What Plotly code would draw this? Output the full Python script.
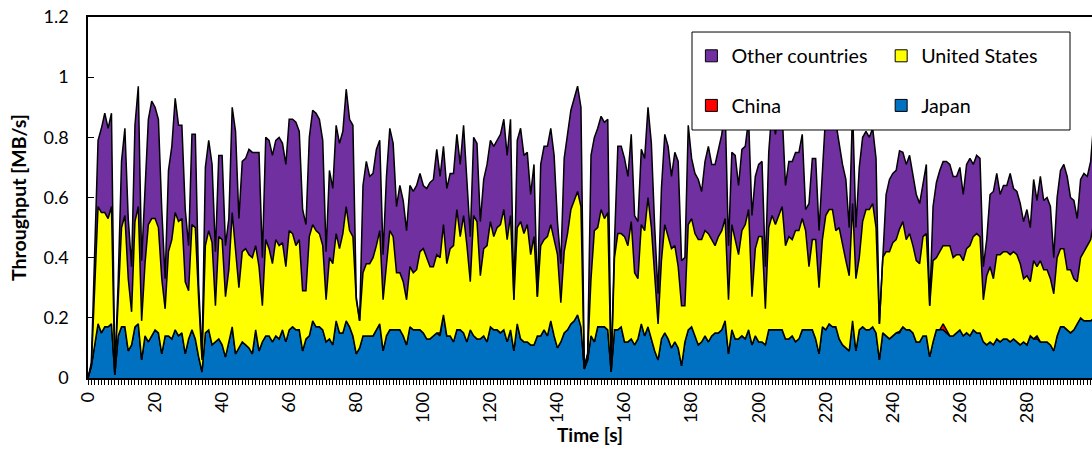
import plotly.graph_objects as go

# time in seconds (one sample per second)
time_s = list(range(301))

japan = [
    0, .04, .11, .18, .15, .17, .17, .18, .01, .14,
    .17, .17, .09, .11, .17, .18, .06, .14, .12, .14,
    .16, .15, .08, .14, .14, .13, .16, .14, .15, .08,
    .13, .16, .13, .07, .02, .15, .16, .11, .12, .13,
    .11, .07, .12, .17, .08, .10, .12, .11, .10, .08,
    .16, .09, .12, .14, .14, .12, .14, .13, .16, .12,
    .16, .17, .16, .16, .09, .13, .14, .19, .17, .17,
    .16, .12, .13, .11, .19, .15, .15, .19, .17, .14,
    .08, .10, .14, .14, .14, .14, .16, .18, .09, .14,
    .16, .16, .16, .16, .14, .11, .17, .16, .16, .16,
    .15, .13, .13, .14, .15, .14, .21, .14, .14, .12,
    .16, .16, .15, .12, .16, .14, .13, .13, .14, .12,
    .17, .16, .16, .15, .16, .12, .16, .09, .18, .13,
    .12, .12, .11, .11, .14, .14, .16, .14, .19, .14,
    .10, .12, .15, .16, .18, .19, .21, .17, .03, .06,
    .14, .12, .17, .17, .17, .16, .02, .16, .16, .17,
    .12, .12, .13, .11, .13, .18, .14, .17, .13, .09,
    .06, .13, .15, .13, .10, .12, .10, .04, .12, .16,
    .17, .14, .11, .12, .14, .12, .14, .15, .15, .16,
    .19, .08, .16, .13, .13, .14, .13, .16, .11, .14,
    .12, .12, .11, .16, .16, .16, .16, .16, .13, .13,
    .14, .12, .13, .16, .16, .16, .16, .13, .08, .17,
    .16, .18, .17, .17, .13, .11, .10, .09, .19, .09,
    .16, .17, .16, .16, .17, .15, .06, .15, .14, .13,
    .14, .15, .15, .17, .16, .16, .15, .12, .12, .14,
    .14, .07, .12, .16, .16, .16, .15, .14, .14, .15,
    .16, .14, .15, .14, .16, .15, .15, .12, .11, .12,
    .11, .13, .12, .13, .13, .12, .13, .12, .11, .12,
    .11, .14, .13, .13, .12, .12, .12, .11, .09, .14,
    .17, .17, .16, .15, .16, .18, .20, .19, .19, .19,
    .20,
]

# China is almost always zero; the few non-zero readings (second -> MB/s)
china_readings = {105: .01, 242: .005, 255: .02, 256: .01, 283: .01}
china = [china_readings.get(t, 0.0) for t in time_s]

united_states = [
    0, 0, .19, .39, .40, .38, .36, .39, .01, .14,
    .33, .37, .24, .11, .35, .39, .13, .24, .39, .39,
    .37, .35, .25, .09, .28, .33, .39, .38, .38, .24,
    .16, .35, .37, .19, .04, .29, .33, .34, .12, .34,
    .35, .20, .24, .38, .34, .20, .30, .32, .31, .32,
    .28, .28, .12, .32, .29, .26, .32, .31, .29, .25,
    .33, .31, .28, .30, .20, .16, .33, .32, .32, .31,
    .28, .14, .27, .27, .29, .28, .33, .38, .32, .33,
    .18, .09, .21, .24, .24, .26, .28, .31, .17, .23,
    .33, .31, .19, .19, .18, .15, .20, .19, .20, .26,
    .28, .27, .24, .23, .26, .25, .30, .24, .29, .32,
    .40, .31, .39, .32, .16, .40, .39, .21, .29, .32,
    .35, .31, .34, .36, .40, .34, .38, .17, .32, .39,
    .36, .39, .30, .36, .13, .30, .30, .33, .32, .32,
    .31, .13, .27, .32, .38, .40, .41, .40, 0, .02,
    .19, .37, .33, .39, .36, .39, 0, .24, .32, .31,
    .35, .32, .39, .24, .20, .33, .35, .43, .37, .25,
    .12, .26, .36, .34, .33, .32, .27, .20, .12, .35,
    .36, .34, .35, .34, .35, .36, .32, .29, .32, .33,
    .34, .18, .35, .33, .28, .35, .38, .40, .16, .29,
    .35, .35, .12, .34, .38, .35, .38, .41, .31, .34,
    .32, .37, .36, .37, .33, .21, .30, .33, .22, .29,
    .38, .38, .39, .32, .37, .33, .29, .25, .39, .24,
    .24, .35, .40, .40, .41, .35, .12, .25, .28, .29,
    .31, .31, .34, .35, .30, .32, .29, .27, .26, .33,
    .34, .17, .27, .24, .26, .26, .28, .30, .26, .26,
    .25, .25, .28, .30, .31, .33, .32, .14, .23, .25,
    .22, .28, .29, .29, .29, .29, .29, .29, .27, .21,
    .23, .18, .26, .23, .27, .24, .24, .22, .19, .26,
    .26, .26, .20, .21, .17, .14, .20, .23, .25, .27,
    .32,
]

other_countries = [
    0, .01, .12, .22, .28, .33, .30, .31, 0, .04,
    .22, .29, .20, .15, .32, .40, .20, .24, .35, .39,
    .37, .36, .23, .10, .27, .31, .38, .32, .31, .24,
    .15, .30, .31, .05, .01, .26, .30, .26, .18, .27,
    .28, .17, .17, .35, .40, .23, .30, .30, .35, .35,
    .31, .38, .16, .34, .36, .36, .33, .36, .33, .34,
    .37, .38, .41, .36, .27, .22, .33, .38, .39, .38,
    .35, .16, .29, .25, .36, .35, .34, .39, .37, .37,
    .01, 0, .29, .34, .29, .28, .32, .30, .15, .30,
    .34, .31, .22, .29, .27, .23, .27, .27, .28, .26,
    .21, .23, .28, .29, .35, .27, .26, .25, .25, .24,
    .25, .24, .30, .22, .15, .26, .26, .18, .23, .27,
    .27, .30, .29, .30, .30, .28, .32, 0, .29, .31,
    .26, .24, .20, .24, 0, .27, .31, .30, .32, .28,
    .11, .13, .31, .33, .33, .34, .35, .33, .01, 0,
    .41, .31, .33, .31, .32, .31, 0, .05, .29, .29,
    .26, .23, .29, .19, .19, .25, .24, .30, .28, .16,
    .10, .24, .30, .30, .24, .31, .35, .15, .16, .33,
    .20, .20, .20, .16, .23, .29, .25, .27, .29, .32,
    .37, .18, .24, .28, .23, .27, .26, .30, .27, .24,
    .24, .25, .14, .25, .36, .30, .36, .31, .20, .25,
    .26, .26, .26, .28, .07, .21, .27, .27, .19, .21,
    .34, .34, .32, .36, .28, .27, .27, .16, .32, .17,
    .30, .28, .26, .24, .25, .23, 0, .02, .19, .24,
    .23, .23, .26, .23, .25, .26, .24, .22, .20, .17,
    .23, 0, .18, .25, .27, .28, .28, .27, .27, .26,
    .29, .22, .28, .29, .24, .26, .26, .11, .12, .24,
    .29, .27, .20, .22, .22, .27, .21, .21, .20, .19,
    .22, .18, .27, .22, .28, .23, .24, .24, .12, .20,
    .26, .28, .31, .24, .26, .21, .26, .26, .23, .26,
    .34,
]

assert len(japan) == len(time_s), len(japan)
assert len(united_states) == len(time_s), len(united_states)
assert len(other_countries) == len(time_s), len(other_countries)

y_ticks = [0, 0.2, 0.4, 0.6, 0.8, 1.0, 1.2]
y_tick_labels = ["0", "0.2", "0.4", "0.6", "0.8", "1", "1.2"]
x_ticks = list(range(0, 300, 20))

series = [
    ("Japan", japan, "#0070C0"),
    ("China", china, "#FF0000"),
    ("United States", united_states, "#FFFF00"),
    ("Other countries", other_countries, "#7030A0"),
]
colors = {name: c for name, _, c in series}

FONT = "Lato, Calibri, Arial, sans-serif"

fig = go.Figure()
for name, vals, col in series:
    fig.add_trace(go.Scatter(
        x=time_s, y=vals, name=name, mode="lines",
        stackgroup="one", fillcolor=col,
        line=dict(color="black", width=1.5, shape="linear"),
        showlegend=False, hoverinfo="skip",
    ))

# legend entries (square swatches with black outline), two columns
legend_layout = [
    ("Other countries", "legend", "g1"),
    ("China", "legend", "g2"),
    ("United States", "legend2", "g3"),
    ("Japan", "legend2", "g4"),
]
for name, leg, grp in legend_layout:
    fig.add_trace(go.Scatter(
        x=[None], y=[None], mode="markers", name=name,
        marker=dict(symbol="square", size=12, color=colors[name],
                    line=dict(color="black", width=1)),
        legend=leg, legendgroup=grp, showlegend=True,
    ))

legend_common = dict(
    bgcolor="rgba(0,0,0,0)", borderwidth=0,
    font=dict(family=FONT, size=19.7, color="black"),
    tracegroupgap=21, yanchor="top", xanchor="left",
    itemclick=False, itemdoubleclick=False,
)

fig.update_layout(
    width=1092, height=453,
    margin=dict(l=88, r=0, t=17, b=75),
    paper_bgcolor="white", plot_bgcolor="white",
    font=dict(family=FONT, size=18, color="black"),
    legend=dict(x=0.601, y=0.946, **legend_common),
    legend2=dict(x=0.790, y=0.946, **legend_common),
    shapes=[dict(type="rect", xref="paper", yref="paper",
                 x0=0.6016, x1=0.9781, y0=0.687, y1=0.9584,
                 line=dict(color="black", width=1), fillcolor="white",
                 layer="above")],
    xaxis=dict(
        range=[0, 299.4], showgrid=False, zeroline=False,
        showline=True, linecolor="black", linewidth=1.5, mirror=True,
        tickmode="array", tickvals=x_ticks, ticktext=[str(v) for v in x_ticks],
        tickangle=-90, ticks="outside", ticklen=5, tickcolor="black",
        minor=dict(dtick=1, tick0=0, ticks="outside", ticklen=5, tickcolor="black"),
        tickfont=dict(family=FONT, size=18),
        title=dict(text="<b>Time [s]</b>", font=dict(family=FONT, size=19), standoff=4),
    ),
    yaxis=dict(
        range=[0, 1.2], showgrid=False, zeroline=False,
        showline=True, linecolor="black", linewidth=1.5, mirror=False,
        tickmode="array", tickvals=y_ticks, ticktext=y_tick_labels,
        ticks="inside", ticklen=6, tickcolor="black",
        ticklabelstandoff=14,
        tickfont=dict(family=FONT, size=18),
        title=dict(text="<b>Throughput [MB/s]</b>", font=dict(family=FONT, size=19.5), standoff=12),
    ),
)

fig.write_html("out.html")
